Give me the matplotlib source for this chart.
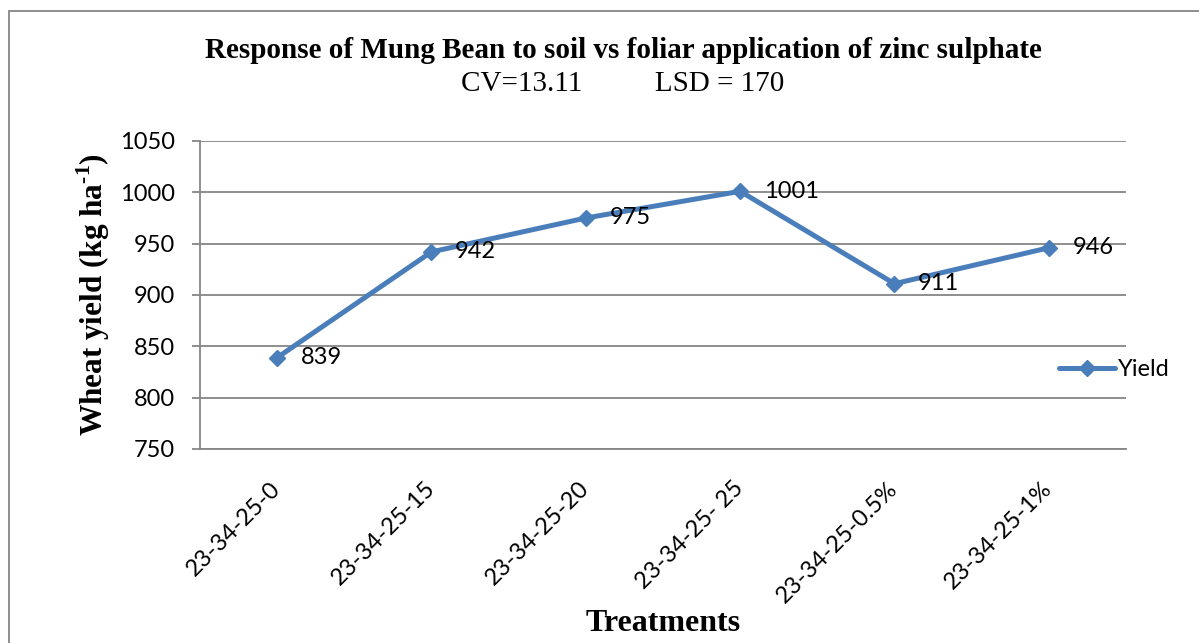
import matplotlib

matplotlib.use("Agg")
import matplotlib.pyplot as plt
from matplotlib.patches import Rectangle
from matplotlib.transforms import ScaledTranslation

# values
treatments = ["23-34-25-0", "23-34-25-15", "23-34-25-20", "23-34-25- 25",
              "23-34-25-0.5%", "23-34-25-1%"]
yield_kg = [839, 942, 975, 1001, 911, 946]
y_ticks = [750, 800, 850, 900, 950, 1000, 1050]

TITLE = "Response of Mung Bean to soil vs foliar application of zinc sulphate"
SUBTITLE = "CV=13.11" + " " * 10 + "LSD = 170"

BLUE = "#4A7EBB"
GREY = "#868686"
SERIF = "Liberation Serif"
SANS = "Lato"

plt.rcParams["mathtext.fontset"] = "custom"
plt.rcParams["mathtext.rm"] = SERIF
plt.rcParams["mathtext.bf"] = SERIF + ":bold"

W, H = 1199, 643
fig = plt.figure(figsize=(W / 100, H / 100), dpi=100)

# outer chart-area border (runs off right/bottom edge like the source crop)
fig.patches.append(Rectangle((9 / W, -0.1), 1.2, 1.1 - 11 / H,
                             transform=fig.transFigure, fill=False,
                             edgecolor=GREY, lw=1.3))

ax = fig.add_axes([200 / W, 1 - 449 / H, 926 / W, 308 / H])
x = list(range(len(treatments)))
ax.plot(x, yield_kg, color=BLUE, lw=3.6, marker="D", ms=8.5,
        markerfacecolor=BLUE, markeredgecolor=BLUE, label="Yield",
        solid_capstyle="round", zorder=3)

for xi, v in zip(x, yield_kg):
    ax.annotate(str(v), (xi, v), xytext=(17, 0), textcoords="offset points",
                ha="left", va="center", fontsize=17, family=SANS)

ax.set_xlim(-0.5, len(treatments) - 0.5)
ax.set_ylim(750, 1050)
ax.set_yticks(y_ticks)
ax.set_yticklabels([str(t) for t in y_ticks], fontsize=17, family=SANS)
ax.set_xticks(x)
ax.set_xticklabels(treatments, fontsize=17, family=SANS, rotation=45,
                   ha="right", va="center", rotation_mode="anchor")
shift = ScaledTranslation(-3 / 72, 0, fig.dpi_scale_trans)
for lbl in ax.get_xticklabels():
    lbl.set_transform(lbl.get_transform() + shift)
ax.tick_params(axis="y", length=5.8, width=1.3, color=GREY, pad=12)
ax.tick_params(axis="x", length=0, pad=26)

ax.grid(axis="y", color=GREY, lw=1.3)
ax.set_axisbelow(True)
for side in ("top", "right"):
    ax.spines[side].set_visible(False)
for side in ("left", "bottom"):
    ax.spines[side].set_color(GREY)
    ax.spines[side].set_linewidth(1.3)

ax.set_ylabel("Wheat yield (kg ha$^{\\mathbf{\u2010}\\mathbf{1}}$)",
              fontsize=22.5, family=SERIF, fontweight="bold")
ax.yaxis.set_label_coords(-0.095, 0.5)
ax.set_xlabel("Treatments", fontsize=23, family=SERIF, fontweight="bold",
              va="top")
ax.xaxis.set_label_coords(0.5, -0.52)

fig.text(623 / W, 1 - 50 / H, TITLE, ha="center", va="center", fontsize=21,
         family=SERIF, fontweight="bold")
fig.text(623 / W, 1 - 84 / H, SUBTITLE, ha="center", va="center",
         fontsize=21, family=SERIF)

ax.legend(loc="center left", bbox_to_anchor=(1047 / W, 1 - 370 / H),
          bbox_transform=fig.transFigure, frameon=False, borderpad=0,
          handlelength=2.37, handletextpad=0.13,
          prop={"family": SANS, "size": 17})

fig.savefig("out.png", dpi=100)
